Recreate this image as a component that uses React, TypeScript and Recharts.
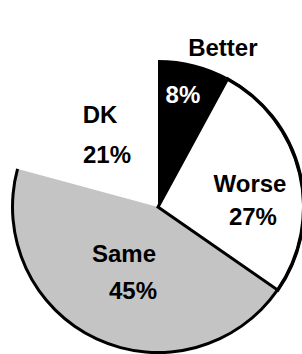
import { Cell, Pie, PieChart } from "recharts";

const categories = ["Better", "Worse", "Same", "DK"];
const shares = [8, 27, 45, 21];

const fills = ["#000000", "#ffffff", "#c4c4c4", "none"];
const ringFills = ["#000000", "#000000", "#000000", "none"];
const textColors = ["#000000", "#000000", "#000000", "#000000"];
const pctColors = ["#ffffff", "#000000", "#000000", "#000000"];

// label placement: [clockwise shift from slice mid angle (deg), radius factor]
const nameLayout: [number, number][] = [
  [7.9, 1.177],
  [-1.2, 0.651],
  [11.5, 0.392],
  [5.2, 0.745],
];
const pctLayout: [number, number][] = [
  [-1.7, 0.786],
  [18.8, 0.653],
  [-8.4, 0.6],
  [-7.0, 0.499],
];

const data = categories.map((name, i) => ({ name, value: shares[i] }));

const RAD = Math.PI / 180;
const FONT = "'Liberation Sans', Arial, Helvetica, sans-serif";

const polar = (cx: number, cy: number, r: number, angle: number) => ({
  x: cx + r * Math.cos(angle * RAD),
  y: cy - r * Math.sin(angle * RAD),
});

const renderLabel = (props: any) => {
  const { cx, cy, midAngle, outerRadius, index } = props;
  const [ns, nr] = nameLayout[index];
  const [ps, pr] = pctLayout[index];
  const n = polar(cx, cy, outerRadius * nr, midAngle - ns);
  const p = polar(cx, cy, outerRadius * pr, midAngle - ps);
  return (
    <g key={`lbl-${index}`}>
      <text
        x={n.x}
        y={n.y}
        textAnchor="middle"
        dominantBaseline="central"
        fill={textColors[index]}
        fontFamily={FONT}
        fontWeight="bold"
        fontSize={24}
      >
        {categories[index]}
      </text>
      <text
        x={p.x}
        y={p.y}
        textAnchor="middle"
        dominantBaseline="central"
        fill={pctColors[index]}
        fontFamily={FONT}
        fontWeight="bold"
        fontSize={24}
      >
        {`${shares[index]}%`}
      </text>
    </g>
  );
};

const App = () => {
  return (
    <div style={{ position: "absolute", left: 0, top: 0, width: 302, height: 354, background: "#fff" }}>
      <PieChart width={302} height={354} margin={{ top: 0, right: 0, bottom: 0, left: 0 }}>
        {/* slice fills */}
        <Pie
          data={data}
          dataKey="value"
          cx={158}
          cy={207}
          outerRadius={146}
          startAngle={90}
          endAngle={-270}
          stroke="none"
          isAnimationActive={false}
        >
          {data.map((d, i) => (
            <Cell key={d.name} fill={fills[i]} stroke="none" />
          ))}
        </Pie>
        {/* outer rim, left open over DK */}
        <Pie
          data={data}
          dataKey="value"
          cx={158}
          cy={207}
          innerRadius={144}
          outerRadius={147}
          startAngle={90}
          endAngle={-270}
          stroke="none"
          isAnimationActive={false}
        >
          {data.map((d, i) => (
            <Cell key={d.name} fill={ringFills[i]} stroke="none" />
          ))}
        </Pie>
        {/* radial edges of the Worse slice, plus labels */}
        <Pie
          data={data}
          dataKey="value"
          cx={158}
          cy={207}
          outerRadius={146}
          startAngle={90}
          endAngle={-270}
          fill="none"
          stroke="none"
          label={renderLabel}
          labelLine={false}
          isAnimationActive={false}
        >
          {data.map((d, i) => (
            <Cell
              key={d.name}
              fill="none"
              stroke={i === 1 ? "#000000" : "none"}
              strokeWidth={3}
            />
          ))}
        </Pie>
      </PieChart>
    </div>
  );
};

export default App;
